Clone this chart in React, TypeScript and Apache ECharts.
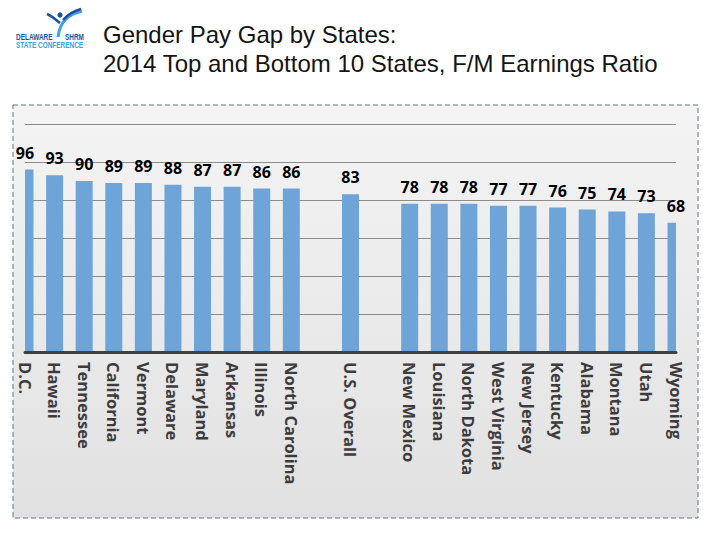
import React, { useEffect, useRef } from "react";
import * as echarts from "echarts";

const categories = [
  "D.C.", "Hawaii", "Tennessee", "California", "Vermont", "Delaware", "Maryland",
  "Arkansas", "Illinois", "North Carolina", "", "U.S. Overall", "", "New Mexico",
  "Louisiana", "North Dakota", "West Virginia", "New Jersey", "Kentucky", "Alabama",
  "Montana", "Utah", "Wyoming",
];
const ratios: (number | null)[] = [
  96, 93, 90, 89, 89, 88, 87, 87, 86, 86, null, 83, null, 78, 78, 78, 77, 77, 76, 75, 74, 73, 68,
];
const titleLines = ["Gender Pay Gap by States:", "2014 Top and Bottom 10 States, F/M Earnings Ratio"];

const BAR_COLOR = "#6fa4d8";
const BAR_WIDTH = 17;

export default function App() {
  const ref = useRef<HTMLDivElement>(null);
  useEffect(() => {
    if (!ref.current) return;
    const chart = echarts.init(ref.current, undefined, { renderer: "svg" });
    const barPairs = categories
      .map((c, i) => [i, ratios[i]])
      .filter((p) => p[1] !== null);
    chart.setOption({
      animation: false,
      backgroundColor: "#ffffff",
      title: {
        text: titleLines.join("\n"),
        left: 98,
        top: 15,
        textStyle: {
          fontFamily: "Liberation Sans",
          fontSize: 24,
          fontWeight: "normal",
          lineHeight: 29,
          color: "#141414",
        },
      },
      graphic: [
        {
          type: "rect",
          z: -100,
          silent: true,
          shape: { x: 13, y: 105, width: 685, height: 413 },
          style: {
            fill: new echarts.graphic.LinearGradient(0, 0, 0, 1, [
              { offset: 0, color: "#f4f4f4" },
              { offset: 1, color: "#e1e1e1" },
            ]),
            stroke: "#5b7590",
            lineWidth: 1,
            lineDash: [5, 3],
          },
        },
        // logo
        {
          type: "bezierCurve",
          shape: { x1: 58, y1: 37, x2: 82, y2: 11, cpx1: 60, cpy1: 20, cpx2: 70, cpy2: 14 },
          style: { stroke: "#3fa0dc", lineWidth: 3, fill: null },
        },
        {
          type: "bezierCurve",
          shape: { x1: 47, y1: 14, x2: 60, y2: 23, cpx1: 52, cpy1: 16, cpx2: 56, cpy2: 20 },
          style: { stroke: "#1f4fa0", lineWidth: 2.5, fill: null },
        },
        {
          type: "bezierCurve",
          shape: { x1: 63, y1: 20, x2: 81, y2: 9, cpx1: 68, cpy1: 14, cpx2: 74, cpy2: 11 },
          style: { stroke: "#1f4fa0", lineWidth: 2.5, fill: null },
        },
        {
          type: "circle",
          shape: { cx: 60, cy: 15, r: 2.6 },
          style: { fill: "#1f4fa0" },
        },
        {
          type: "text",
          x: 16,
          y: 32,
          scaleX: 0.68,
          style: {
            text: "DELAWARE",
            fontFamily: "Liberation Sans",
            fontWeight: "bold",
            fontSize: 9.5,
            fill: "#1f4fa0",
          },
        },
        {
          type: "text",
          x: 65,
          y: 32,
          scaleX: 0.68,
          style: {
            text: "SHRM",
            fontFamily: "Liberation Sans",
            fontWeight: "bold",
            fontSize: 9.5,
            fill: "#1f4fa0",
          },
        },
        {
          type: "text",
          x: 16,
          y: 40,
          scaleX: 0.68,
          style: {
            text: "STATE CONFERENCE",
            fontFamily: "Liberation Sans",
            fontWeight: "bold",
            fontSize: 9.5,
            fill: "#36a2dc",
          },
        },
      ],
      grid: { left: 25, right: 44, top: 124, bottom: 188, containLabel: false },
      xAxis: {
        type: "category",
        data: categories,
        boundaryGap: false,
        z: 3,
        axisLine: { show: true, lineStyle: { color: "#404040", width: 3 } },
        axisTick: { show: false },
        splitLine: { show: false },
        axisLabel: {
          interval: 0,
          rotate: -90,
          margin: 10,
          fontFamily: "Open Sans",
          fontWeight: "bold",
          fontSize: 16.5,
          color: "#3c3c3c",
        },
      },
      yAxis: {
        type: "value",
        min: 0,
        max: 120,
        interval: 20,
        axisLabel: { show: false },
        axisLine: { show: false },
        axisTick: { show: false },
        splitLine: { show: true, lineStyle: { color: "#8c8c8c", width: 1 } },
      },
      series: [
        {
          type: "custom",
          data: barPairs,
          encode: { x: 0, y: 1 },
          renderItem: (params: any, api: any) => {
            const idx = api.value(0);
            const v = api.value(1);
            const top = api.coord([idx, v]);
            const base = api.coord([idx, 0]);
            const cs = params.coordSys;
            const shape = echarts.graphic.clipRectByRect(
              { x: top[0] - BAR_WIDTH / 2, y: top[1], width: BAR_WIDTH, height: base[1] - top[1] },
              { x: cs.x, y: cs.y, width: cs.width, height: cs.height }
            );
            if (!shape) return null;
            return { type: "rect", shape, style: { fill: BAR_COLOR } };
          },
        },
        {
          type: "bar",
          data: ratios,
          barWidth: BAR_WIDTH,
          itemStyle: { color: "rgba(0,0,0,0)" },
          label: {
            show: true,
            position: "top",
            distance: 9,
            fontFamily: "Open Sans",
            fontWeight: "bold",
            fontSize: 16,
            color: "#000000",
          },
        },
      ],
    });
    return () => chart.dispose();
  }, []);
  return (
    <div
      ref={ref}
      style={{ position: "absolute", left: 0, top: 0, width: 720, height: 540 }}
    />
  );
}
